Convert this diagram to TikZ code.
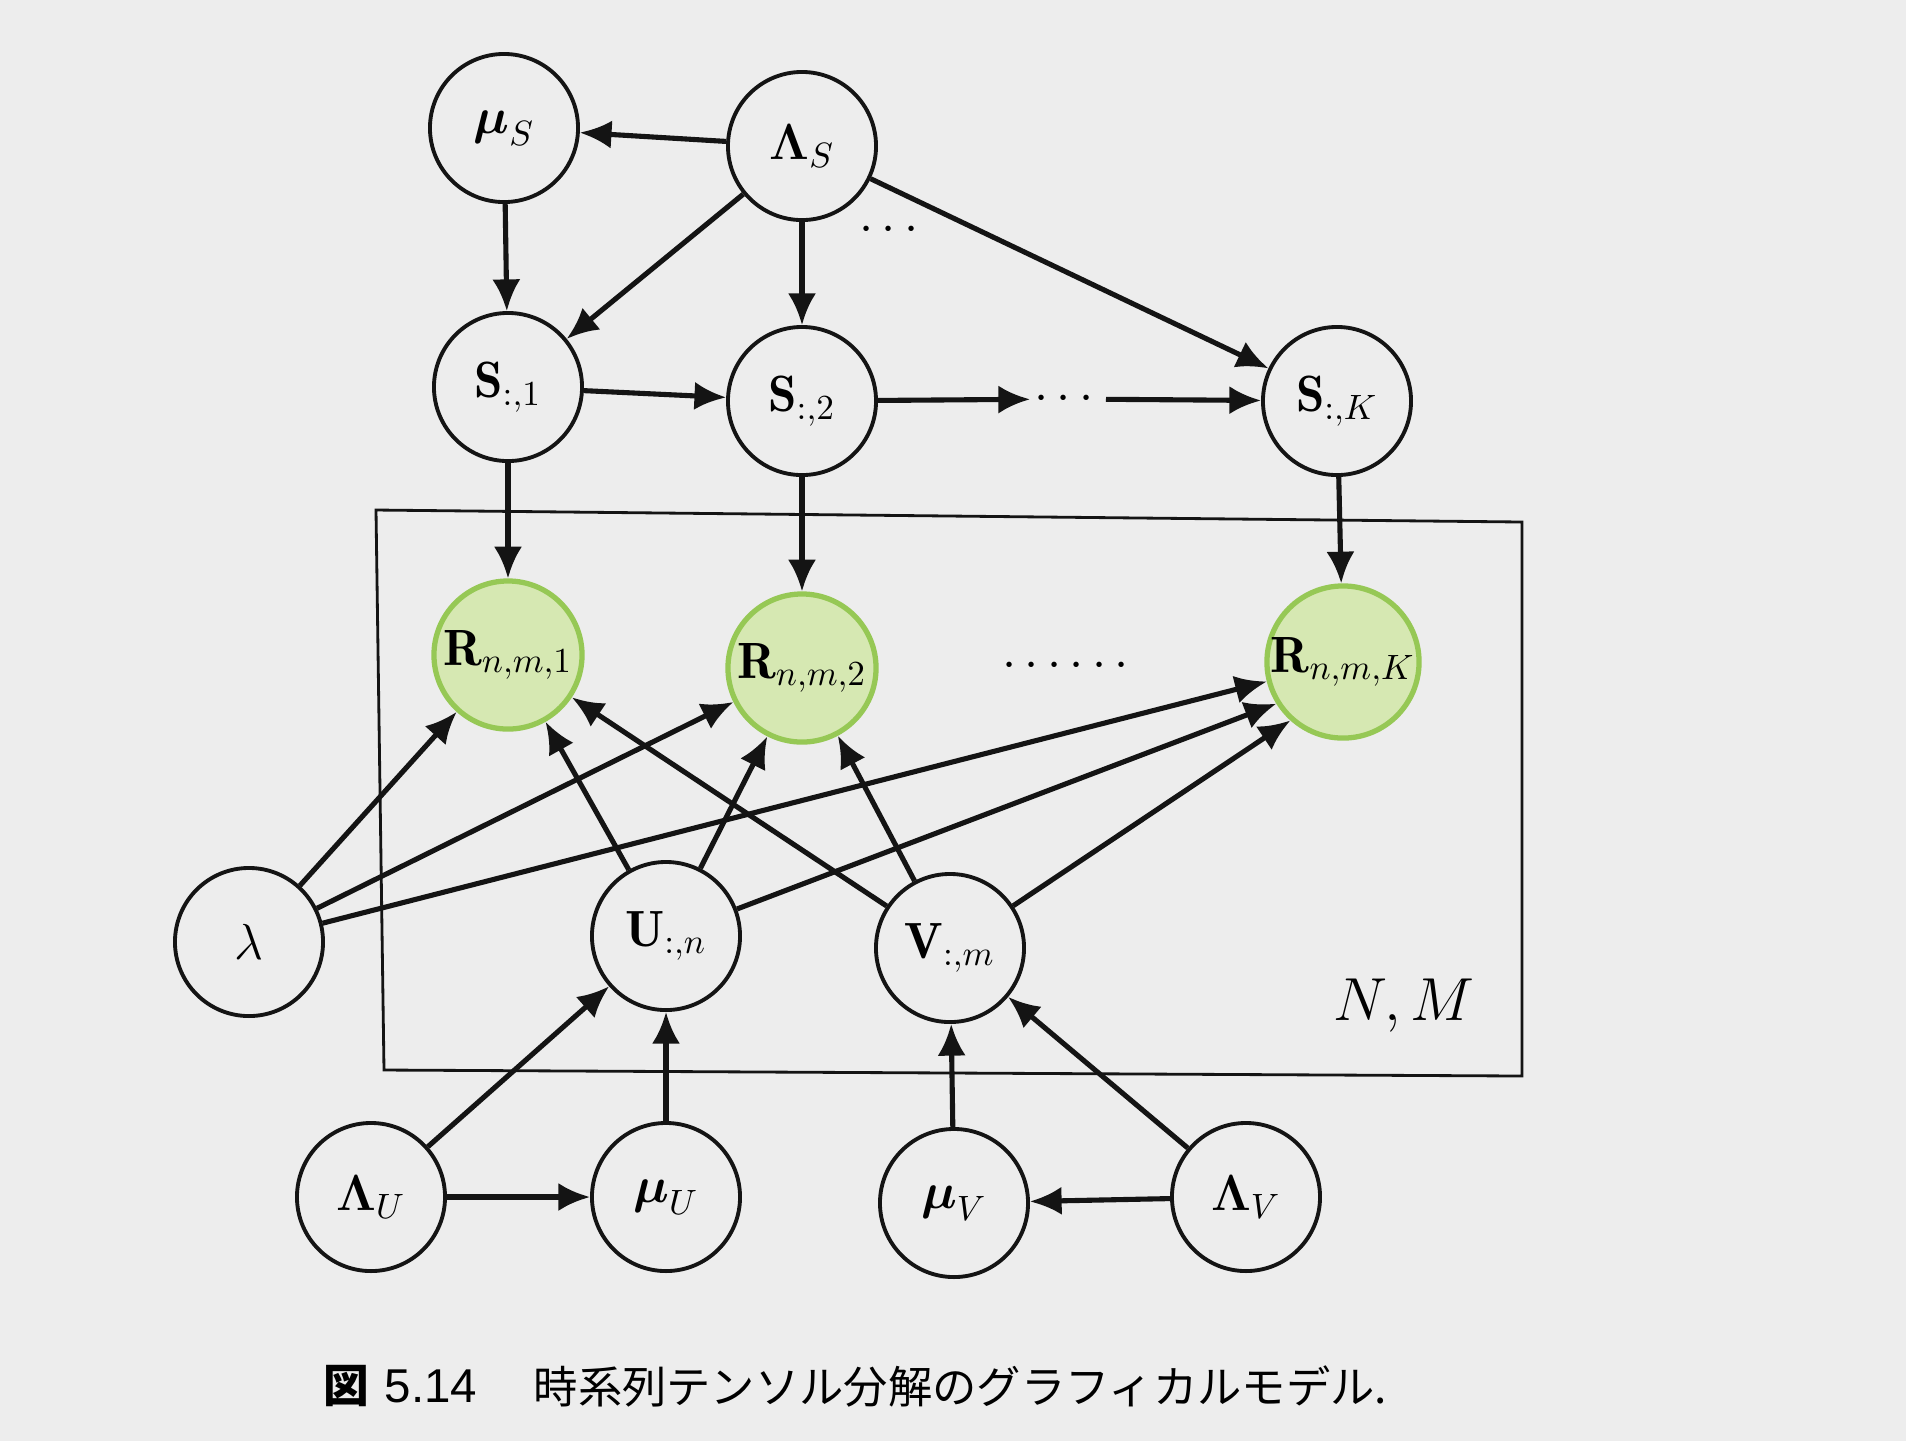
\documentclass[tikz,border=0pt]{standalone}
\usepackage{amsmath}
\usepackage{fontspec}
\newfontfamily\jpfont{Noto Sans CJK JP}
\newfontfamily\numfont{Liberation Sans}
\usetikzlibrary{arrows.meta}
\definecolor{paper}{RGB}{237,237,237}
\definecolor{ink}{RGB}{20,20,20}
\definecolor{obsfill}{RGB}{214,232,178}
\definecolor{obsline}{RGB}{150,200,85}
\begin{document}
\begin{tikzpicture}[x=0.01cm,y=-0.01cm,
  var/.style={circle, draw=ink, fill=paper, line width=1.1pt, minimum size=1.48cm,
    inner sep=0pt, font=\fontsize{14.5}{17}\selectfont},
  obs/.style={var, draw=obsline, fill=obsfill, line width=1.5pt},
  edge/.style={draw=ink, line width=1.45pt, -{Latex[length=9pt,width=8pt]}},
  plate/.style={draw=ink, line width=0.8pt},
  dots/.style={inner sep=1pt, font=\fontsize{14}{16}\selectfont}]
  % page
  \fill[paper] (0,0) rectangle (1906,1441);
  \useasboundingbox (0,0) rectangle (1906,1441);

  % plate over n, m
  \draw[plate] (376,510) -- (1522,522) -- (1522,1076) -- (384,1070) -- cycle;
  \node[font=\fontsize{19}{22}\selectfont] (nm) at (1404,1006) {$N,M$};

  % prior on the temporal factors
  \node[var] (muS) at (504,128) {$\boldsymbol{\mu}_S$};
  \node[var] (LS)  at (802,146) {$\boldsymbol{\Lambda}_S$};
  \node[dots] (tdots) at (893,230) {$\cdots$};

  % temporal chain
  \node[var] (S1) at (508,387) {$\mathbf{S}_{:,1}$};
  \node[var] (S2) at (802,401) {$\mathbf{S}_{:,2}$};
  \node[dots] (hdots) at (1068,399) {$\cdots$};
  \node[var] (SK) at (1337,401) {$\mathbf{S}_{:,K}$};

  % observations
  \node[obs] (R1) at (508,655) {$\mathbf{R}_{n,m,1}$};
  \node[obs] (R2) at (802,668) {$\mathbf{R}_{n,m,2}$};
  \node[dots] (rdots) at (1070,666) {$\cdots\cdots$};
  \node[obs] (RK) at (1343,662) {$\mathbf{R}_{n,m,K}$};

  % precision and latent factors
  \node[var] (lam) at (249,942) {$\lambda$};
  \node[var] (U) at (666,936) {$\mathbf{U}_{:,n}$};
  \node[var] (V) at (950,948) {$\mathbf{V}_{:,m}$};

  % hyperparameters
  \node[var] (LU)  at (371,1197) {$\boldsymbol{\Lambda}_U$};
  \node[var] (muU) at (666,1197) {$\boldsymbol{\mu}_U$};
  \node[var] (muV) at (954,1203) {$\boldsymbol{\mu}_V$};
  \node[var] (LV)  at (1246,1197) {$\boldsymbol{\Lambda}_V$};

  % edges
  \draw[edge] (LS) -- (muS);
  \draw[edge] (muS) -- (S1);
  \draw[edge] (LS) -- (S1);
  \draw[edge] (LS) -- (S2);
  \draw[edge] (LS) -- (SK);
  \draw[edge] (S1) -- (S2);
  \draw[edge] (S2) -- (hdots);
  \draw[edge] (hdots) -- (SK);
  \draw[edge] (S1) -- (R1);
  \draw[edge] (S2) -- (R2);
  \draw[edge] (SK) -- (RK);

  \draw[edge] (lam) -- (R1);
  \draw[edge] (lam) -- (R2);
  \draw[edge] (lam) -- (RK);
  \draw[edge] (U) -- (R1);
  \draw[edge] (U) -- (R2);
  \draw[edge] (U) -- (RK.212);
  \draw[edge] (V) -- (R1);
  \draw[edge] (V) -- (R2);
  \draw[edge] (V) -- (RK.228);

  \draw[edge] (LU) -- (U);
  \draw[edge] (muU) -- (U);
  \draw[edge] (LU) -- (muU);
  \draw[edge] (muV) -- (V);
  \draw[edge] (LV) -- (V);
  \draw[edge] (LV) -- (muV);

  % caption
  \node[anchor=west, inner sep=0pt, font=\jpfont\bfseries\fontsize{13}{15}\selectfont] (capfig) at (323,1386) {図};
  \node[anchor=west, inner sep=0pt, font=\numfont\fontsize{13.5}{15}\selectfont] (capnum) at (384,1386) {5.14};
  \node[anchor=west, inner sep=0pt, font=\jpfont\fontsize{12.6}{15}\selectfont] (captext) at (533,1386) {時系列テンソル分解のグラフィカルモデル.};
\end{tikzpicture}
\end{document}
